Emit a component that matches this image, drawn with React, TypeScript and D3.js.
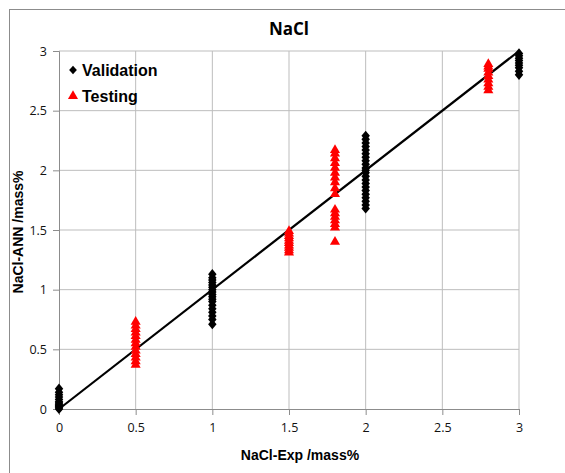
import { useEffect, useRef } from 'react';
import * as d3 from 'd3';

// observed (x) vs predicted (y) values, mass%
const validationX = [0, 1, 2, 3];
const validationY: number[][] = [
  [0.0, 0.01, 0.02, 0.03, 0.04, 0.05, 0.06, 0.08, 0.1, 0.12, 0.14, 0.17],
  [0.71, 0.75, 0.78, 0.81, 0.84, 0.87, 0.9, 0.92, 0.94, 0.96, 0.98, 1.0, 1.02, 1.04, 1.06, 1.08, 1.1, 1.13],
  [1.68, 1.71, 1.74, 1.77, 1.8, 1.83, 1.86, 1.89, 1.92, 1.95, 1.98, 2.0, 2.02, 2.05, 2.08, 2.11, 2.14, 2.17, 2.2, 2.23, 2.26, 2.29],
  [2.8, 2.83, 2.86, 2.88, 2.9, 2.92, 2.94, 2.96, 2.98],
];

const testingX = [0.5, 1.5, 1.8, 2.8];
const testingY: number[][] = [
  [0.37, 0.4, 0.43, 0.46, 0.49, 0.52, 0.55, 0.58, 0.61, 0.64, 0.67, 0.7, 0.73],
  [1.31, 1.33, 1.35, 1.37, 1.39, 1.41, 1.43, 1.45, 1.47, 1.49],
  [1.4, 1.52, 1.55, 1.58, 1.61, 1.64, 1.67, 1.8, 1.85, 1.9, 1.94, 1.98, 2.02, 2.06, 2.1, 2.14, 2.17],
  [2.67, 2.7, 2.73, 2.76, 2.79, 2.82, 2.85, 2.87, 2.89],
];

const ticks = [0, 0.5, 1, 1.5, 2, 2.5, 3];

export default function App() {
  const svgRef = useRef<SVGSVGElement>(null);

  useEffect(() => {
    if (!svgRef.current) return;
    const svg = d3.select(svgRef.current);
    svg.selectAll('*').remove();

    const margin = { top: 51, right: 46, bottom: 64, left: 59 };
    const width = 565;
    const height = 473;
    const innerW = width - margin.left - margin.right;
    const innerH = height - margin.top - margin.bottom;

    // outer chart frame, cut off by the window on right and bottom
    svg.append('rect')
      .attr('x', 9.5)
      .attr('y', 9.5)
      .attr('width', 600)
      .attr('height', 500)
      .attr('fill', '#fff')
      .attr('stroke', '#8c8c8c');

    const x = d3.scaleLinear().domain([0, 3]).range([0, innerW]);
    const y = d3.scaleLinear().domain([0, 3]).range([innerH, 0]);

    const g = svg.append('g').attr('transform', `translate(${margin.left},${margin.top})`);

    // grid
    g.append('g')
      .selectAll('line')
      .data(ticks.slice(1))
      .enter()
      .append('line')
      .attr('x1', d => x(d))
      .attr('x2', d => x(d))
      .attr('y1', 0)
      .attr('y2', innerH)
      .attr('stroke', '#bdbdbd');
    g.append('g')
      .selectAll('line')
      .data(ticks.slice(1))
      .enter()
      .append('line')
      .attr('x1', 0)
      .attr('x2', innerW)
      .attr('y1', d => y(d))
      .attr('y2', d => y(d))
      .attr('stroke', '#bdbdbd');

    const xAxis = g.append('g')
      .attr('transform', `translate(0,${innerH})`)
      .call(d3.axisBottom(x).tickValues(ticks).tickSize(6).tickPadding(8).tickFormat(d => String(d)));
    const yAxis = g.append('g')
      .call(d3.axisLeft(y).tickValues(ticks).tickSize(6).tickPadding(6).tickFormat(d => String(d)));

    [xAxis, yAxis].forEach(a => {
      a.select('.domain').attr('stroke', '#8c8c8c');
      a.selectAll('.tick line').attr('stroke', '#8c8c8c');
      a.selectAll('text')
        .attr('fill', '#111')
        .attr('font-size', 12.5)
        .attr('font-family', '"Open Sans", "Noto Sans", sans-serif');
    });

    // y = x reference line
    g.append('line')
      .attr('x1', x(0))
      .attr('y1', y(0))
      .attr('x2', x(3))
      .attr('y2', y(3))
      .attr('stroke', '#000')
      .attr('stroke-width', 2.2);

    // diamond = square rotated 45deg, slightly stretched vertically
    const square = d3.symbol().type(d3.symbolSquare).size(36);
    const triangle = d3.symbol().type(d3.symbolTriangle).size(44);

    const valPts = validationX.flatMap((xv, i) => validationY[i].map(yv => [xv, yv]));
    const testPts = testingX.flatMap((xv, i) => testingY[i].map(yv => [xv, yv]));

    g.append('g')
      .selectAll('path')
      .data(valPts)
      .enter()
      .append('path')
      .attr('d', square)
      .attr('transform', d => `translate(${x(d[0])},${y(d[1])}) scale(1,1.2) rotate(45)`)
      .attr('fill', '#000');

    g.append('g')
      .selectAll('path')
      .data(testPts)
      .enter()
      .append('path')
      .attr('d', triangle)
      .attr('transform', d => `translate(${x(d[0])},${y(d[1])})`)
      .attr('fill', '#ff0000');

    // title
    svg.append('text')
      .attr('x', 289)
      .attr('y', 35)
      .attr('text-anchor', 'middle')
      .attr('font-size', 17)
      .attr('font-weight', 700)
      .attr('font-family', '"Open Sans", "Noto Sans", sans-serif')
      .text('NaCl');

    // axis titles
    svg.append('text')
      .attr('x', 300)
      .attr('y', 460)
      .attr('text-anchor', 'middle')
      .attr('font-size', 14)
      .attr('font-weight', 700)
      .attr('font-family', '"Liberation Sans", Arial, sans-serif')
      .text('NaCl-Exp /mass%');

    svg.append('text')
      .attr('transform', 'translate(23,232) rotate(-90)')
      .attr('text-anchor', 'middle')
      .attr('font-size', 14)
      .attr('font-weight', 700)
      .attr('font-family', '"Liberation Sans", Arial, sans-serif')
      .text('NaCl-ANN /mass%');

    // legend
    const legend = svg.append('g').attr('transform', 'translate(73,70)');
    legend.append('path')
      .attr('d', d3.symbol().type(d3.symbolSquare).size(30))
      .attr('transform', 'scale(1,1.1) rotate(45)')
      .attr('fill', '#000');
    legend.append('text')
      .attr('x', 9)
      .attr('y', 6)
      .attr('font-size', 16)
      .attr('font-weight', 700)
      .attr('font-family', '"Liberation Sans", Arial, sans-serif')
      .text('Validation');
    legend.append('path')
      .attr('d', triangle)
      .attr('transform', 'translate(0,26)')
      .attr('fill', '#ff0000');
    legend.append('text')
      .attr('x', 9)
      .attr('y', 32)
      .attr('font-size', 16)
      .attr('font-weight', 700)
      .attr('font-family', '"Liberation Sans", Arial, sans-serif')
      .text('Testing');
  }, []);

  return (
    <div style={{ position: 'absolute', left: 0, top: 0, width: 565, height: 473, background: '#fff' }}>
      <svg ref={svgRef} width={565} height={473} style={{ display: 'block' }} />
    </div>
  );
}
